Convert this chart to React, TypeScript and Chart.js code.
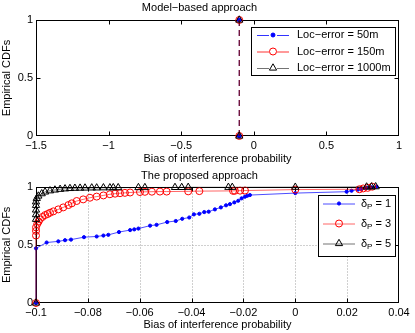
import React, { useEffect, useRef } from "react";
import { Chart, registerables } from "chart.js";

Chart.register(...registerables);

const FONT = "'Liberation Sans', Arial, Helvetica, sans-serif";

// ---------------- Shared text ----------------
const xAxisLabel = "Bias of interference probability";
const yAxisLabel = "Empirical CDFs";

// ---------------- Top panel: model-based approach ----------------
const topTitle = "Model\u2212based approach";
const topXTicks = [-1.5, -1, -0.5, 0, 0.5, 1];
const topYTicks = [0, 0.5, 1];
const modelLabels = ["Loc\u2212error = 50m", "Loc\u2212error = 150m", "Loc\u2212error = 1000m"];
const modelBias50 = [-0.1, -0.1];
const modelCdf50 = [0, 1];
const modelBias150 = [-0.1, -0.1];
const modelCdf150 = [0, 1];
const modelBias1000 = [-0.1, -0.1];
const modelCdf1000 = [0, 1];

// ---------------- Bottom panel: proposed approach ----------------
const bottomTitle = "The proposed approach";
const bottomXTicks = [-0.1, -0.08, -0.06, -0.04, -0.02, 0, 0.02, 0.04];
const bottomYTicks = [0, 0.5, 1];
const deltaLabels = ["\u03b4_P = 1", "\u03b4_P = 3", "\u03b4_P = 5"];

const delta1Bias = [-0.1, -0.1, -0.0959, -0.0914, -0.0888, -0.0865, -0.0815, -0.0766, -0.074, -0.0721, -0.068, -0.0637, -0.0621, -0.0605, -0.056, -0.0535, -0.0494, -0.0461, -0.0436, -0.0409, -0.0391, -0.037, -0.0351, -0.0334, -0.031, -0.0287, -0.0267, -0.0252, -0.0235, -0.022, -0.0207, -0.0194, -0.0185, -0.0175, 0, 0.0198, 0.0217, 0.0242, 0.0256, 0.0275, 0.0294, 0.0314];
const delta1Cdf = [0, 0.47, 0.52, 0.53, 0.54, 0.545, 0.566, 0.572, 0.58, 0.586, 0.61, 0.627, 0.633, 0.64, 0.665, 0.672, 0.696, 0.705, 0.724, 0.735, 0.762, 0.767, 0.782, 0.785, 0.805, 0.822, 0.84, 0.85, 0.865, 0.879, 0.9, 0.914, 0.922, 0.928, 0.945, 0.957, 0.965, 0.975, 0.98, 0.99, 0.995, 1.0];

const delta3Bias = [-0.1, -0.1, -0.1, -0.1, -0.0995, -0.099, -0.0985, -0.0975, -0.0965, -0.0955, -0.0946, -0.0933, -0.0914, -0.0895, -0.0875, -0.0862, -0.0843, -0.0818, -0.0792, -0.0766, -0.074, -0.0715, -0.0695, -0.0676, -0.0657, -0.0637, -0.0599, -0.058, -0.0553, -0.0522, -0.0496, -0.0413, -0.037, -0.024, -0.0233, -0.0213, -0.0194, 0, 0.0247, 0.0262, 0.0279, 0.0297];
const delta3Cdf = [0, 0.58, 0.62, 0.65, 0.68, 0.7, 0.72, 0.74, 0.756, 0.765, 0.776, 0.788, 0.805, 0.822, 0.842, 0.857, 0.877, 0.891, 0.905, 0.915, 0.925, 0.935, 0.94, 0.944, 0.947, 0.95, 0.954, 0.956, 0.957, 0.958, 0.958, 0.96, 0.962, 0.964, 0.965, 0.966, 0.967, 0.975, 0.978, 0.985, 0.99, 1.0];

const delta5Bias = [-0.1, -0.1, -0.1, -0.1, -0.1, -0.1, -0.0997, -0.0991, -0.0978, -0.0965, -0.0946, -0.0927, -0.0907, -0.0888, -0.0869, -0.085, -0.083, -0.0811, -0.0785, -0.0766, -0.074, -0.0715, -0.0702, -0.0683, -0.0605, -0.058, -0.0464, -0.0438, -0.0413, -0.0258, -0.0243, 0, 0.0275, 0.0294, 0.031];
const delta5Cdf = [0, 0.72, 0.76, 0.8, 0.84, 0.87, 0.9, 0.92, 0.94, 0.955, 0.965, 0.972, 0.978, 0.982, 0.985, 0.987, 0.988, 0.989, 0.99, 0.99, 0.991, 0.991, 0.992, 0.992, 0.993, 0.993, 0.994, 0.994, 0.995, 0.995, 0.995, 0.996, 0.998, 0.999, 1.0];

// ---------------- helpers ----------------
const pts = (xs: number[], ys: number[]) => xs.map((x, i) => ({ x, y: ys[i] }));

const fmt = (v: any) => {
  const r = Math.round(Number(v) * 1e6) / 1e6;
  return r < 0 ? "\u2212" + String(-r) : String(r);
};

function drawMarker(ctx: CanvasRenderingContext2D, ds: any, x: number, y: number) {
  const r = ds.pointRadius;
  ctx.save();
  ctx.setLineDash([]);
  ctx.lineWidth = ds.pointBorderWidth ?? 1;
  ctx.strokeStyle = ds.pointBorderColor;
  ctx.fillStyle = ds.pointBackgroundColor;
  ctx.beginPath();
  if (ds.pointStyle === "triangle") {
    let rad = 0;
    ctx.moveTo(x + Math.sin(rad) * r, y - Math.cos(rad) * r);
    rad += (2 * Math.PI) / 3;
    ctx.lineTo(x + Math.sin(rad) * r, y - Math.cos(rad) * r);
    rad += (2 * Math.PI) / 3;
    ctx.lineTo(x + Math.sin(rad) * r, y - Math.cos(rad) * r);
    ctx.closePath();
  } else {
    ctx.arc(x, y, r, 0, Math.PI * 2);
  }
  ctx.fill();
  ctx.stroke();
  ctx.restore();
}

function drawLabel(ctx: CanvasRenderingContext2D, label: string, x: number, y: number) {
  ctx.fillStyle = "#000";
  ctx.textBaseline = "middle";
  ctx.textAlign = "left";
  const m = label.match(/^(.*?)_(\w)(.*)$/);
  ctx.font = `11px ${FONT}`;
  if (!m) {
    ctx.fillText(label, x, y);
    return;
  }
  ctx.fillText(m[1], x, y);
  x += ctx.measureText(m[1]).width;
  ctx.font = `8px ${FONT}`;
  ctx.fillText(m[2], x, y + 3);
  x += ctx.measureText(m[2]).width;
  ctx.font = `11px ${FONT}`;
  ctx.fillText(m[3], x, y);
}

const matlabAxes = {
  id: "matlabAxes",
  beforeDatasetsDraw(chart: any, _args: any, opts: any) {
    const { ctx, chartArea: a } = chart;
    const xs = chart.scales.x;
    const ys = chart.scales.y;
    const L = Math.round(a.left) + 0.5;
    const R = Math.round(a.right) - 0.5;
    const T = Math.round(a.top) + 0.5;
    const B = Math.round(a.bottom) - 0.5;
    const inner = (v: number, s: any) => v > s.min + 1e-9 && v < s.max - 1e-9;
    ctx.save();
    ctx.lineWidth = 1;
    if (opts && opts.grid) {
      ctx.strokeStyle = "#a0a0a0";
      ctx.setLineDash([1, 2]);
      for (const t of xs.ticks) {
        if (!inner(t.value, xs)) continue;
        const p = Math.round(xs.getPixelForValue(t.value)) + 0.5;
        ctx.beginPath();
        ctx.moveTo(p, T);
        ctx.lineTo(p, B);
        ctx.stroke();
      }
      for (const t of ys.ticks) {
        if (!inner(t.value, ys)) continue;
        const p = Math.round(ys.getPixelForValue(t.value)) + 0.5;
        ctx.beginPath();
        ctx.moveTo(L, p);
        ctx.lineTo(R, p);
        ctx.stroke();
      }
    }
    ctx.setLineDash([]);
    ctx.strokeStyle = "#000";
    ctx.strokeRect(L, T, R - L, B - T);
    const tl = 4;
    ctx.beginPath();
    for (const t of xs.ticks) {
      if (!inner(t.value, xs)) continue;
      const p = Math.round(xs.getPixelForValue(t.value)) + 0.5;
      ctx.moveTo(p, B);
      ctx.lineTo(p, B - tl);
      ctx.moveTo(p, T);
      ctx.lineTo(p, T + tl);
    }
    for (const t of ys.ticks) {
      if (!inner(t.value, ys)) continue;
      const p = Math.round(ys.getPixelForValue(t.value)) + 0.5;
      ctx.moveTo(L, p);
      ctx.lineTo(L + tl, p);
      ctx.moveTo(R, p);
      ctx.lineTo(R - tl, p);
    }
    ctx.stroke();
    ctx.restore();
  },
};

const boxLegend = {
  id: "boxLegend",
  afterDraw(chart: any, _args: any, o: any) {
    if (!o || !o.rows) return;
    const ctx = chart.ctx as CanvasRenderingContext2D;
    ctx.save();
    ctx.fillStyle = "#fff";
    ctx.fillRect(o.left, o.top, o.width, o.height);
    ctx.strokeStyle = "#000";
    ctx.lineWidth = 1;
    ctx.strokeRect(o.left + 0.5, o.top + 0.5, o.width, o.height);
    chart.data.datasets.forEach((ds: any, i: number) => {
      const y = o.rows[i];
      ctx.save();
      ctx.strokeStyle = ds.borderColor;
      ctx.lineWidth = 1;
      ctx.setLineDash(o.dash || []);
      ctx.beginPath();
      ctx.moveTo(o.x0, y + 0.5);
      ctx.lineTo(o.x1, y + 0.5);
      ctx.stroke();
      ctx.restore();
      drawMarker(ctx, ds, (o.x0 + o.x1) / 2, y);
      drawLabel(ctx, ds.label, o.textX, y);
    });
    ctx.restore();
  },
};

const textFont = { family: FONT, size: 11, weight: "normal" as const };

function axisOptions(
  xMin: number,
  xMax: number,
  xTicks: number[],
  yTicks: number[],
  xHeight: number,
  xTitlePadBottom: number
) {
  return {
    x: {
      type: "linear" as const,
      min: xMin,
      max: xMax,
      afterBuildTicks: (s: any) => {
        s.ticks = xTicks.map((v) => ({ value: v }));
      },
      afterFit: (s: any) => {
        s.height = xHeight;
      },
      grid: { display: false, drawTicks: false },
      border: { display: false },
      ticks: { callback: fmt, padding: 3.4, font: textFont, color: "#000", maxRotation: 0, autoSkip: false },
      title: {
        display: true,
        text: xAxisLabel,
        font: textFont,
        color: "#000",
        padding: { top: 0, bottom: xTitlePadBottom },
      },
    },
    y: {
      type: "linear" as const,
      min: 0,
      max: 1,
      afterBuildTicks: (s: any) => {
        s.ticks = yTicks.map((v) => ({ value: v }));
      },
      afterFit: (s: any) => {
        s.width = 36;
      },
      grid: { display: false, drawTicks: false },
      border: { display: false },
      ticks: { callback: fmt, padding: 3, font: textFont, color: "#000", autoSkip: false },
      title: {
        display: true,
        text: yAxisLabel,
        font: textFont,
        color: "#000",
        padding: { top: 0, bottom: 0 },
      },
    },
  };
}

function topConfig(): any {
  const mk = (label: string, xs: number[], ys: number[], color: string, ptColor: string, style: string, r: number, fill: string, order: number) => ({
    label,
    data: pts(xs, ys),
    showLine: true,
    borderColor: color,
    borderWidth: 1,
    borderDash: [6, 4],
    pointStyle: style,
    pointRadius: r,
    pointBackgroundColor: fill,
    pointBorderColor: ptColor,
    pointBorderWidth: 1,
    clip: false,
    order,
  });
  return {
    type: "scatter",
    data: {
      datasets: [
        mk(modelLabels[0], modelBias50, modelCdf50, "rgba(0,0,255,0.8)", "#0000ff", "circle", 2, "#0000ff", 3),
        mk(modelLabels[1], modelBias150, modelCdf150, "rgba(255,0,0,0.8)", "#ff0000", "circle", 3.5, "rgba(0,0,0,0)", 2),
        mk(modelLabels[2], modelBias1000, modelCdf1000, "rgba(0,0,0,0.55)", "#000000", "triangle", 4.2, "rgba(0,0,0,0)", 1),
      ],
    },
    options: {
      responsive: false,
      animation: false,
      events: [],
      layout: { padding: { left: 0, right: 16, top: 0, bottom: 0 } },
      scales: axisOptions(-1.5, 1, topXTicks, topYTicks, 34, 4.9),
      plugins: {
        legend: { display: false },
        tooltip: { enabled: false },
        title: {
          display: true,
          text: topTitle,
          font: textFont,
          color: "#000",
          padding: { top: 0.9, bottom: 5.9 },
        },
        matlabAxes: { grid: false },
        boxLegend: {
          left: 251,
          top: 27,
          width: 144,
          height: 48,
          rows: [35, 51.5, 68],
          x0: 257,
          x1: 289,
          textX: 297,
          dash: [12, 8],
        },
      },
    },
    plugins: [matlabAxes, boxLegend],
  };
}

function bottomConfig(): any {
  const mk = (label: string, xs: number[], ys: number[], color: string, ptColor: string, style: string, r: number, fill: string, order: number) => ({
    label,
    data: pts(xs, ys),
    showLine: true,
    borderColor: color,
    borderWidth: 1,
    pointStyle: style,
    pointRadius: r,
    pointBackgroundColor: fill,
    pointBorderColor: ptColor,
    pointBorderWidth: 1,
    clip: false,
    order,
  });
  return {
    type: "scatter",
    data: {
      datasets: [
        mk(deltaLabels[0], delta1Bias, delta1Cdf, "rgba(0,0,255,0.7)", "#0000ff", "circle", 1.6, "#0000ff", 3),
        mk(deltaLabels[1], delta3Bias, delta3Cdf, "rgba(255,0,0,0.6)", "#ff0000", "circle", 3.5, "rgba(0,0,0,0)", 2),
        mk(deltaLabels[2], delta5Bias, delta5Cdf, "rgba(0,0,0,0.55)", "#000000", "triangle", 4.2, "rgba(0,0,0,0)", 1),
      ],
    },
    options: {
      responsive: false,
      animation: false,
      events: [],
      layout: { padding: { left: 0, right: 16, top: 0, bottom: 0 } },
      scales: axisOptions(-0.1, 0.04, bottomXTicks, bottomYTicks, 30, 1.2),
      plugins: {
        legend: { display: false },
        tooltip: { enabled: false },
        title: {
          display: true,
          text: bottomTitle,
          font: textFont,
          color: "#000",
          padding: { top: 1.4, bottom: 4.1 },
        },
        matlabAxes: { grid: true },
        boxLegend: {
          left: 318,
          top: 27,
          width: 77,
          height: 61,
          rows: [35.5, 55.5, 75.5],
          x0: 323,
          x1: 355,
          textX: 361,
        },
      },
    },
    plugins: [matlabAxes, boxLegend],
  };
}

function Panel({ make, top, height }: { make: () => any; top: number; height: number }) {
  const ref = useRef<HTMLCanvasElement>(null);
  useEffect(() => {
    if (!ref.current) return;
    const chart = new Chart(ref.current, make());
    return () => chart.destroy();
  }, [make]);
  return (
    <canvas
      ref={ref}
      width={415}
      height={height}
      style={{ position: "absolute", left: 0, top, width: 415, height, display: "block" }}
    />
  );
}

export default function App() {
  return (
    <div style={{ position: "fixed", left: 0, top: 0, width: 415, height: 333, background: "#fff" }}>
      <Panel make={topConfig} top={0} height={170} />
      <Panel make={bottomConfig} top={168} height={165} />
    </div>
  );
}
